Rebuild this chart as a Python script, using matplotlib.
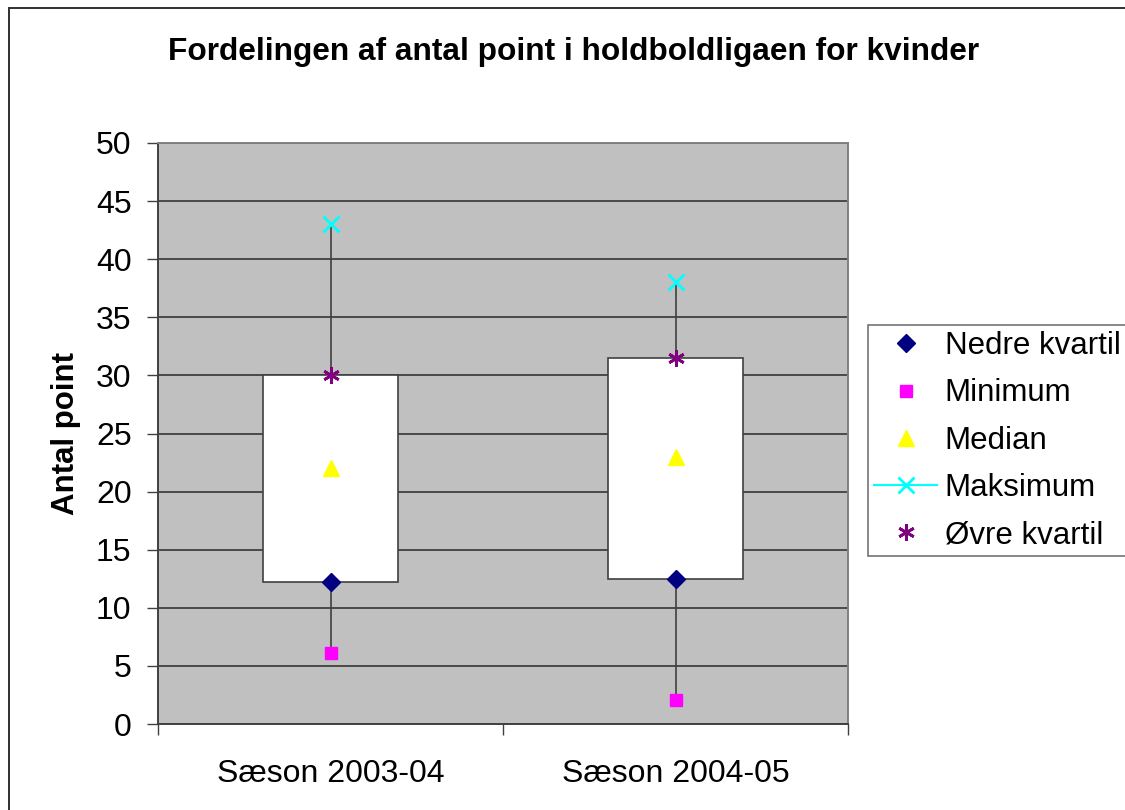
import numpy as np
import matplotlib
matplotlib.use("Agg")
import matplotlib.pyplot as plt
from matplotlib.patches import Rectangle
from matplotlib.lines import Line2D

plt.rcParams["font.family"] = ["Liberation Sans", "DejaVu Sans"]

seasons = ["Sæson 2003-04", "Sæson 2004-05"]
minimum = [6.1, 2.1]
lower_q = [12.2, 12.5]
median = [22.0, 23.0]
upper_q = [30.0, 31.5]
maximum = [43.0, 38.0]

GRID = "#404040"

fig = plt.figure(figsize=(11.25, 8.1), dpi=100)
fig.patches.append(Rectangle((8.5 / 1125, -0.1), 1.2, 1.1 - 8.5 / 810,
                             transform=fig.transFigure, fill=False,
                             edgecolor="#303030", linewidth=1.4))

ax = fig.add_axes([158 / 1125, 86 / 810, 690 / 1125, 581 / 810])
ax.set_facecolor("#C0C0C0")

x = np.arange(len(seasons)) + 0.5

# whiskers (high-low lines)
ax.vlines(x, minimum, maximum, color=GRID, linewidth=1.2, zorder=2)

# box from lower to upper quartile
heights = np.array(upper_q) - np.array(lower_q)
ax.bar(x, heights, bottom=lower_q, width=0.39, color="white",
       edgecolor=GRID, linewidth=1.2, zorder=3)

ax.plot(x, lower_q, linestyle="none", marker="D", markersize=9,
        color="#000080", zorder=5, label="Nedre kvartil")
ax.plot(x, minimum, linestyle="none", marker="s", markersize=9,
        color="#FF00FF", zorder=5, label="Minimum")
ax.plot(x, median, linestyle="none", marker="^", markersize=11,
        color="#FFFF00", zorder=5, label="Median")
ax.plot(x, maximum, linestyle="none", marker="x", markersize=11,
        markeredgewidth=2, color="#00FFFF", zorder=5, label="Maksimum")
ax.plot(x, upper_q, linestyle="none", marker=(6, 2, 0), markersize=12,
        markeredgewidth=2, color="#800080", zorder=5, label="Øvre kvartil")

ax.set_xlim(0, len(seasons))
ax.set_ylim(0, 50)
ax.set_yticks(np.arange(0, 51, 5))
ax.yaxis.grid(True, color=GRID, linewidth=1.3)
ax.set_axisbelow(True)

ax.set_xticks(np.arange(len(seasons) + 1))
ax.set_xticklabels([])
ax.set_xticks(x, minor=True)
ax.set_xticklabels(seasons, minor=True)
ax.tick_params(axis="x", which="minor", length=0, labelsize=23, pad=25)
ax.tick_params(axis="x", which="major", length=8, width=1, color="#404040")
ax.tick_params(axis="y", length=8, width=1, color="#404040", labelsize=23, pad=11)

for side in ["top", "right"]:
    ax.spines[side].set_color("#808080")
    ax.spines[side].set_linewidth(1.4)
for side in ["left", "bottom"]:
    ax.spines[side].set_color("#404040")
    ax.spines[side].set_linewidth(1.4)

ax.set_ylabel("Antal point", fontsize=22.5, fontweight="bold", labelpad=11)

fig.text(574 / 1125, 1 - 52 / 810, "Fordelingen af antal point i holdboldligaen for kvinder",
         ha="center", va="center", fontsize=22.8, fontweight="bold")

handles, labels = ax.get_legend_handles_labels()
handles[3] = Line2D([], [], color="#00FFFF", marker="x", markersize=11,
                    markeredgewidth=2, linewidth=1.5)
leg = fig.legend(handles, labels, loc="upper left",
                 bbox_to_anchor=(868 / 1125, 1 - 325 / 810),
                 frameon=True, fancybox=False, edgecolor="#505050",
                 fontsize=22.5, borderaxespad=0, handlelength=2.0,
                 handletextpad=0.25, labelspacing=0.55, borderpad=0.2)
leg.get_frame().set_linewidth(1.2)

fig.savefig("out.png", dpi=100)
